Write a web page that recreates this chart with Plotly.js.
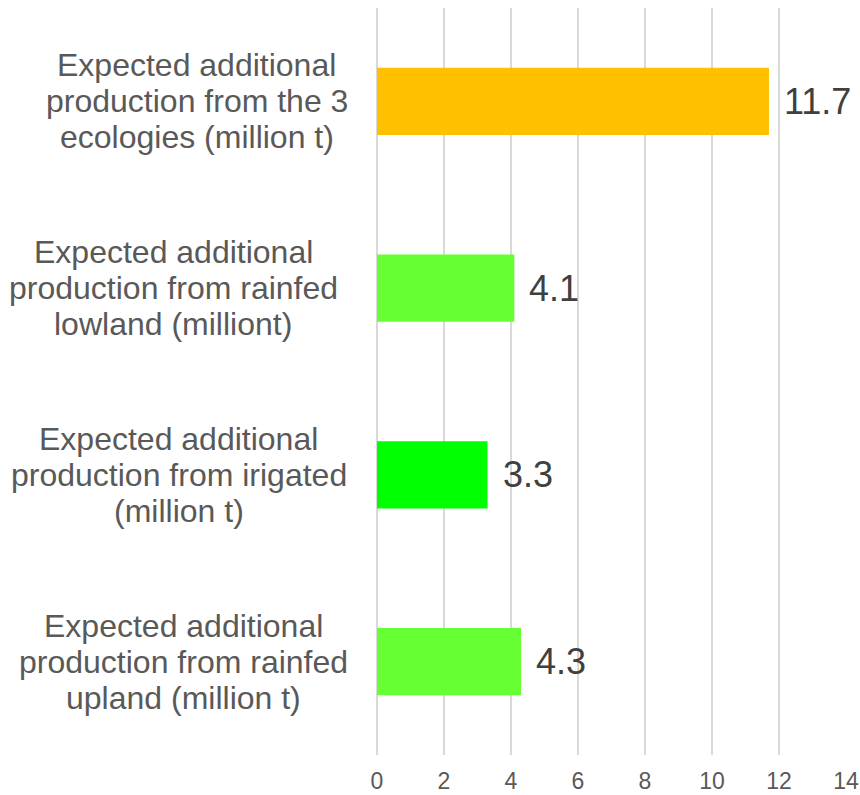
<!DOCTYPE html>
<html>
<head>
<meta charset="utf-8">
<script src="https://cdn.plot.ly/plotly-3.0.1.min.js"></script>
<style>html,body{margin:0;padding:0;background:#fff;}#chart{width:860px;height:795px;}</style>
</head>
<body>
<div id="chart"></div>
<script>
const categories = [
  "Expected additional<br>production from the 3<br>ecologies (million t)",
  "Expected additional<br>production from rainfed<br>lowland (milliont)",
  "Expected additional<br>production from irigated<br>(million t)",
  "Expected additional<br>production from rainfed<br>upland (million t)"
];
const values = [11.7, 4.1, 3.3, 4.3];
const valueLabels = ["11.7", "4.1", "3.3", "4.3"];
const barColors = ["#FFC000", "#66FF33", "#00FF00", "#66FF33"];
const xTicks = [0, 2, 4, 6, 8, 10, 12, 14];

const FONT = "Liberation Sans, Arial, sans-serif";
const LABEL_SIZE = 32;
const LINE_GAP = 36;
const LABEL_RIGHT = [348, 338, 347, 348];
const PLOT_LEFT = 377;

const ctx = document.createElement("canvas").getContext("2d");
ctx.font = LABEL_SIZE + "px 'Liberation Sans'";

const annotations = [];
categories.forEach((cat, i) => {
  const lines = cat.split("<br>");
  const maxW = Math.max(...lines.map(l => ctx.measureText(l).width));
  const cx = LABEL_RIGHT[i] - maxW / 2;
  lines.forEach((line, j) => {
    annotations.push({
      xref: "paper", yref: "y", x: 0, y: cat,
      xanchor: "center", yanchor: "middle",
      xshift: cx - PLOT_LEFT,
      yshift: -(j - (lines.length - 1) / 2) * LINE_GAP,
      text: line, showarrow: false,
      font: {family: FONT, size: LABEL_SIZE, color: "#595959"}
    });
  });
  annotations.push({
    xref: "x", yref: "y", x: values[i], y: cat,
    xanchor: "left", yanchor: "middle", xshift: 13,
    text: valueLabels[i], showarrow: false,
    font: {family: FONT, size: 36, color: "#404040"}
  });
});

const trace = {
  type: "bar", orientation: "h",
  x: values, y: categories,
  marker: {color: barColors},
  width: 0.36,
  hoverinfo: "none"
};

const layout = {
  width: 860, height: 795,
  margin: {l: 377, r: 14, t: 8, b: 40},
  paper_bgcolor: "#fff", plot_bgcolor: "#fff",
  showlegend: false,
  font: {family: FONT},
  xaxis: {
    range: [0, 14], tickvals: xTicks, ticktext: xTicks.map(String),
    showgrid: true, gridcolor: "#d9d9d9", gridwidth: 1.5,
    zeroline: true, zerolinecolor: "#d9d9d9", zerolinewidth: 1.5,
    showline: false, ticks: "", ticklabelstandoff: 10,
    tickfont: {family: FONT, size: 23, color: "#595959"},
    fixedrange: true
  },
  yaxis: {
    autorange: "reversed", showticklabels: false, showgrid: false,
    zeroline: false, showline: false, ticks: "", fixedrange: true
  },
  annotations: annotations
};

Plotly.newPlot("chart", [trace], layout, {displayModeBar: false, staticPlot: true});
</script>
</body>
</html>
